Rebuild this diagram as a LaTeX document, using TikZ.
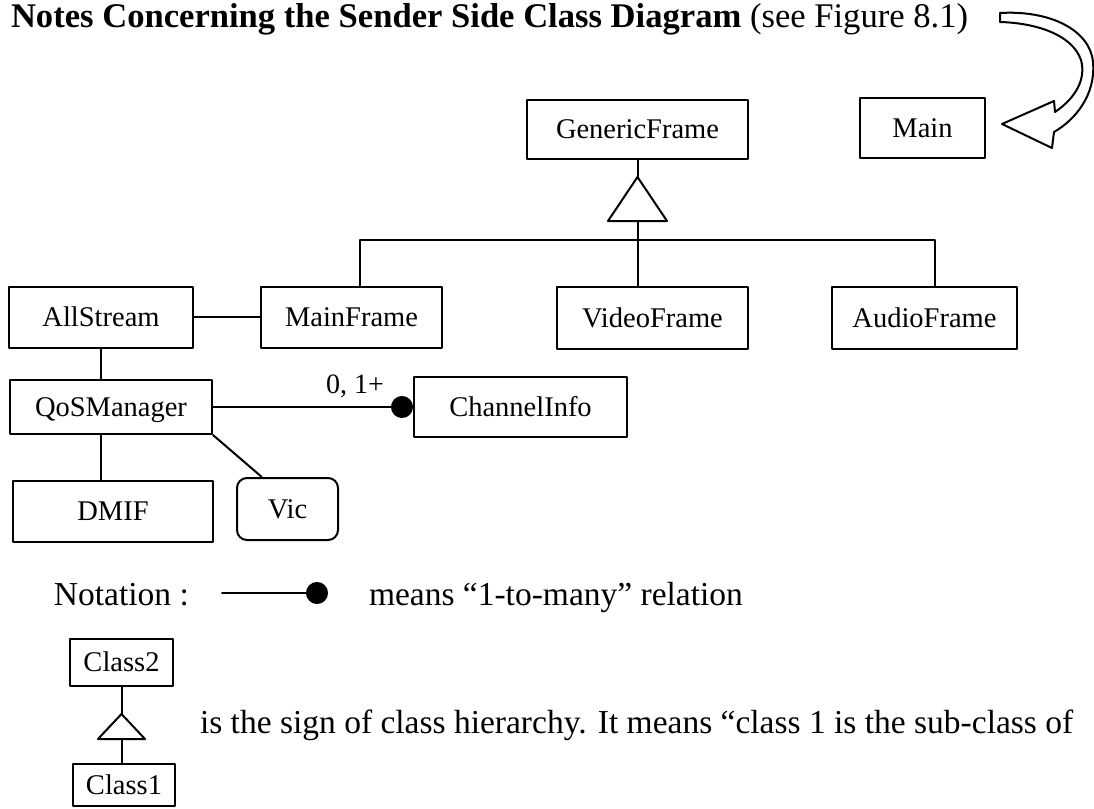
\documentclass[tikz,border=0pt]{standalone}
\usepackage{fontspec}
\setmainfont{Liberation Serif}
\usetikzlibrary{arrows.meta,calc}
\tikzset{
  cls/.style 2 args={draw, line width=1pt, minimum width=#1*0.5pt, minimum height=#2*0.5pt, inner sep=0pt, text height=11pt, text depth=2pt, font=\fontsize{14.25}{17}\selectfont},
  txt/.style={inner sep=0pt, anchor=base west, font=\fontsize{16.75}{20}\selectfont}
}
\begin{document}
\begin{tikzpicture}[x=0.5pt, y=-0.5pt, line join=round, line cap=round, line width=1pt]
	\useasboundingbox (0,0) rectangle (1094,809);
	\node[txt, font=\fontsize{17.3}{20}\selectfont] (title) at (10,27) {\textbf{Notes Concerning the Sender Side Class Diagram} (see Figure 8.1)};
	% hollow bent arrow to Main
	\draw[fill=white] (1000,13) .. controls (1050,10) and (1090,30) .. (1093,62) .. controls (1096,95) and (1075,120) .. (1054,132) -- (1052,148) -- (1002,124) -- (1054,101) -- (1055,112) .. controls (1077,97) and (1086,78) .. (1081,60) .. controls (1072,34) and (1035,23) .. (1000,22) -- cycle;
	% classes
	\node[cls={221}{59}] (GenericFrame) at (637.5,129.5) {GenericFrame};
	\node[cls={125}{60}] (Main) at (922.5,128) {Main};
	\node[cls={184}{61}] (AllStream) at (101,317) {AllStream};
	\node[cls={181}{61}] (MainFrame) at (351.5,317) {MainFrame};
	\node[cls={191}{62}] (VideoFrame) at (652.5,318) {VideoFrame};
	\node[cls={185}{62}] (AudioFrame) at (924.5,318) {AudioFrame};
	\node[cls={202}{54}] (QoSManager) at (111,407) {QoSManager};
	\node[cls={213}{60}] (ChannelInfo) at (520.5,407) {ChannelInfo};
	\node[cls={200}{61}] (DMIF) at (113,511.5) {DMIF};
	\node[cls={101}{62}, rounded corners=5pt] (Vic) at (287.5,509) {Vic};
	% hierarchy
	\draw (GenericFrame.south) -- ++(0,17) coordinate (gtop);
	\draw (gtop) -- ++(-29.5,44) -- ++(59,0) -- cycle;
	\draw (gtop) ++(0,44) coordinate (gbot) -- (VideoFrame.north -| gbot);
	\draw (MainFrame.north -| 360,0) |- (935,240) -- (AudioFrame.north -| 935,0);
	% associations
	\draw (AllStream.east) -- (MainFrame.west);
	\draw (AllStream.south) -- (AllStream.south |- QoSManager.north);
	\draw (QoSManager.south -| AllStream.south) -- (DMIF.north -| AllStream.south);
	\draw (QoSManager.south east) -- ($(Vic.north west)!0.25!(Vic.north east)$);
	\draw[-{Circle[length=11pt]}] (QoSManager.east) -- node[above=4pt, pos=0.71, inner sep=0pt, font=\fontsize{14}{17}\selectfont] (mult) {0, 1+} (ChannelInfo.west);
	% notation
	\node[txt] (notation) at (53,605) {Notation :};
	\coordinate (dl) at (222,593);
	\coordinate (dr) at (328,593);
	\draw[-{Circle[length=11pt]}] (dl) -- (dr);
	\node[txt] (means) at (368,605) {means “1-to-many” relation};
	\node[cls={103}{47}] (Class2) at (121.5,662.5) {Class2};
	\node[cls={102}{42}] (Class1) at (124,785) {Class1};
	\draw (Class2.south) -- ++(0,27) coordinate (ctop);
	\draw (ctop) -- ++(-23.5,25) -- ++(47,0) -- cycle;
	\draw (ctop) ++(0,25) coordinate (cbot) -- (Class1.north -| cbot);
	\node[txt] (sign) at (199,733) {is the sign of class hierarchy. It means “class 1 is the sub-class of};
\end{tikzpicture}
\end{document}
